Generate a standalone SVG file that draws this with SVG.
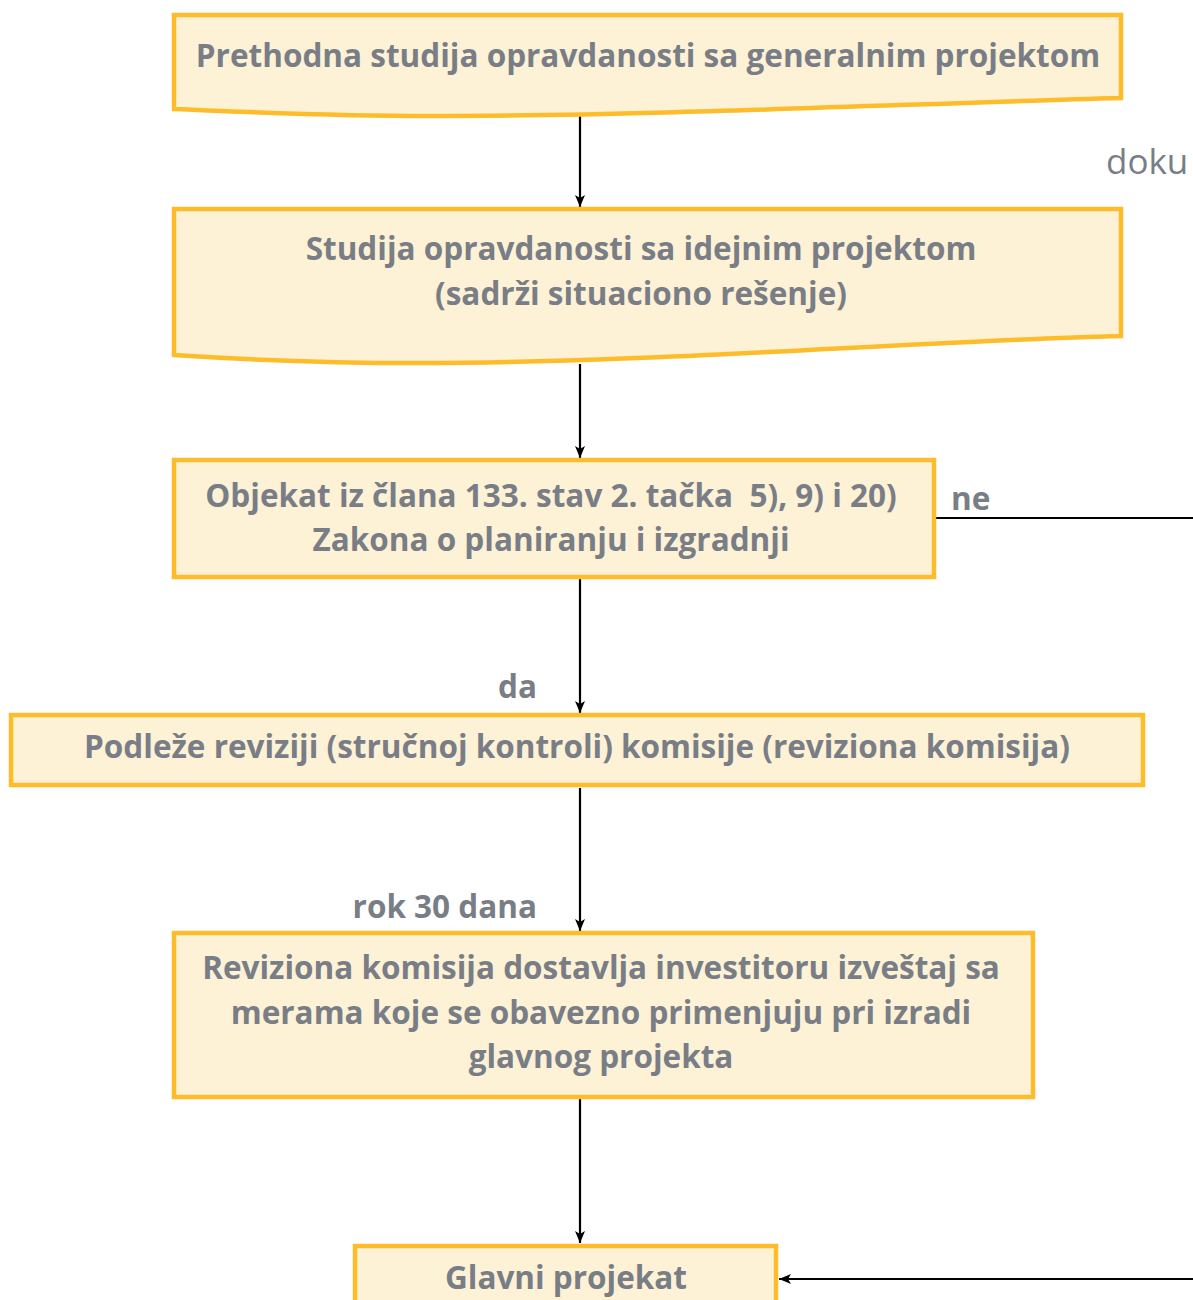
<svg xmlns="http://www.w3.org/2000/svg" width="1193" height="1300" viewBox="0 0 1193 1300">
<style>
.box{fill:#fdf1d6;stroke:#fdbd2a;stroke-width:4.5}
.t{font-family:"Open Sans","Liberation Sans",sans-serif;font-weight:700;font-size:31.5px;fill:#797e86;text-anchor:middle;white-space:pre}
.l{font-family:"Open Sans","Liberation Sans",sans-serif;font-weight:700;font-size:31.5px;fill:#797e86}
.c{stroke:#000;stroke-width:2.2;fill:none}
</style>
<defs>
<marker id="ah" viewBox="0 0 12 10" refX="12" refY="5" markerWidth="12" markerHeight="10" markerUnits="userSpaceOnUse" orient="auto">
<path d="M0,0 L12,5 L0,10 L3,5 Z" fill="#000"/>
</marker>
</defs>
<g id="connectors">
<line class="c" x1="580" y1="111" x2="580" y2="207" marker-end="url(#ah)"/>
<line class="c" x1="580" y1="364" x2="580" y2="458" marker-end="url(#ah)"/>
<line class="c" x1="580" y1="578" x2="580" y2="713" marker-end="url(#ah)"/>
<line class="c" x1="580" y1="788" x2="580" y2="931" marker-end="url(#ah)"/>
<line class="c" x1="580" y1="1099" x2="580" y2="1243" marker-end="url(#ah)"/>
<line class="c" x1="936" y1="518" x2="1193" y2="518"/>
<line class="c" x1="1193" y1="1279" x2="779" y2="1279" marker-end="url(#ah)"/>
<text class="l" x="537" y="698" text-anchor="end">da</text>
<text class="l" x="537" y="918" text-anchor="end">rok 30 dana</text>
<text class="l" x="951" y="510">ne</text>
</g>
<g id="n1">
<path class="box" d="M174,15 H1121 V98 C900,104 650,116 430,116 C330,116 250,112 174,109 Z"/>
<text class="t" x="648" y="67">Prethodna studija opravdanosti sa generalnim projektom</text>
</g>
<text x="1106" y="174" style="font-family:'Open Sans','Liberation Sans',sans-serif;font-size:35px;fill:#797e86">doku</text>
<g id="n2">
<path class="box" d="M174,209 H1121 V336 C900,342 650,363 420,363 C320,363 250,360 174,355 Z"/>
<text class="t" x="641" y="260">Studija opravdanosti sa idejnim projektom</text>
<text class="t" x="641" y="305">(sadrži situaciono rešenje)</text>
</g>
<g id="n3">
<rect class="box" x="174" y="460" width="760" height="117"/>
<text class="t" x="551" y="507" xml:space="preserve">Objekat iz člana 133. stav 2. tačka  5), 9) i 20)</text>
<text class="t" x="551" y="551">Zakona o planiranju i izgradnji</text>
</g>
<g id="n4">
<rect class="box" x="11" y="715" width="1132" height="70"/>
<text class="t" x="577" y="758">Podleže reviziji (stručnoj kontroli) komisije (reviziona komisija)</text>
</g>
<g id="n5">
<rect class="box" x="174" y="933" width="859" height="164"/>
<text class="t" x="601" y="979">Reviziona komisija dostavlja investitoru izveštaj sa</text>
<text class="t" x="601" y="1024">merama koje se obavezno primenjuju pri izradi</text>
<text class="t" x="601" y="1068">glavnog projekta</text>
</g>
<g id="n6">
<rect class="box" x="355" y="1246" width="421" height="70"/>
<text class="t" x="566" y="1289">Glavni projekat</text>
</g>
</svg>
